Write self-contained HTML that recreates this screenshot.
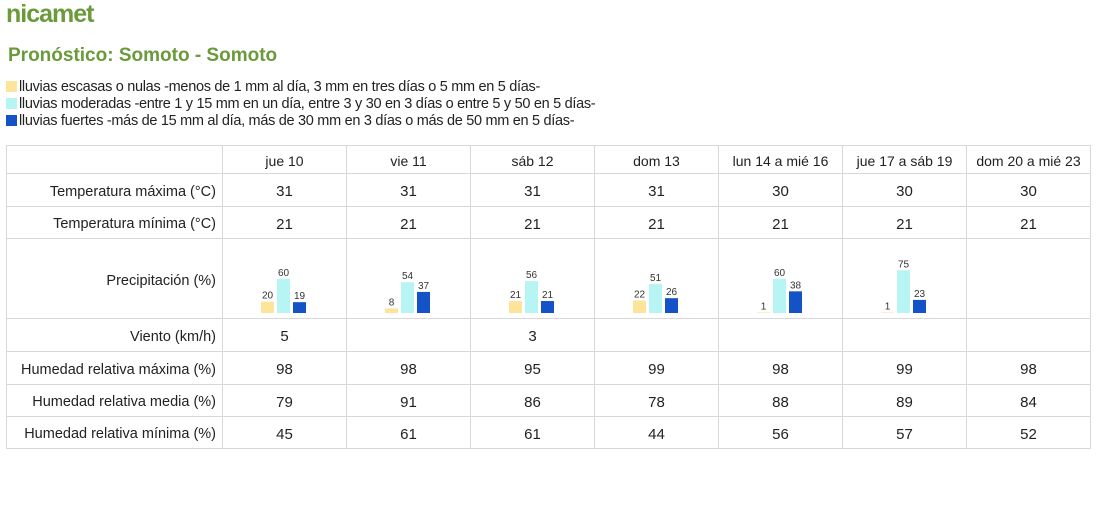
<!DOCTYPE html>
<html><head><meta charset="utf-8"><style>
body{margin:0;width:1112px;height:512px;background:#fff;font-family:"Liberation Sans",sans-serif;color:#222;position:relative;overflow:hidden}
.logo{position:absolute;left:6px;top:0px;font-size:25px;font-weight:bold;color:#6a9a3a;letter-spacing:-1px}
.title{position:absolute;left:8px;top:45px;font-size:19px;font-weight:bold;color:#6a9a3a}
.leg{position:absolute;left:6px;font-size:14.5px;color:#222;white-space:nowrap;letter-spacing:-0.3px}
.sw{display:inline-block;width:11px;height:11px;margin-right:2px;vertical-align:-1px}
table{position:absolute;left:6px;top:145px;border-collapse:collapse;table-layout:fixed}
td{border:1px solid #d8d8d8;text-align:center;font-size:15px;padding:3px 0 0 0;white-space:nowrap}
td.l{font-size:14.5px;text-align:right;padding-right:6px}
tr.h td{font-size:14px}
#precRow td{padding:0}
#precRow td.l{padding-right:6px;padding-top:4px}
svg{display:block}
</style></head><body>
<div class="logo">nicamet</div>
<div class="title">Pronóstico: Somoto - Somoto</div>
<div class="leg" style="top:79px"><span class="sw" style="background:#fde49a"></span>lluvias escasas o nulas -menos de 1 mm al día, 3 mm en tres días o 5 mm en 5 días-</div>
<div class="leg" style="top:96px"><span class="sw" style="background:#b7f5f5"></span>lluvias moderadas -entre 1 y 15 mm en un día, entre 3 y 30 en 3 días o entre 5 y 50 en 5 días-</div>
<div class="leg" style="top:113px"><span class="sw" style="background:#1452c8"></span>lluvias fuertes -más de 15 mm al día, más de 30 mm en 3 días o más de 50 mm en 5 días-</div>
<table>
<colgroup><col style="width:216px"><col style="width:123px"><col style="width:123px"><col style="width:123px"><col style="width:123px"><col style="width:123px"><col style="width:123px"><col style="width:123px"></colgroup>
<tr class="h" style="height:28px"><td></td><td>jue 10</td><td>vie 11</td><td>sáb 12</td><td>dom 13</td><td>lun 14 a mié 16</td><td>jue 17 a sáb 19</td><td>dom 20 a mié 23</td></tr>
<tr style="height:33px"><td class="l">Temperatura máxima (°C)</td><td>31</td><td>31</td><td>31</td><td>31</td><td>30</td><td>30</td><td>30</td></tr>
<tr style="height:32px"><td class="l">Temperatura mínima (°C)</td><td>21</td><td>21</td><td>21</td><td>21</td><td>21</td><td>21</td><td>21</td></tr>
<tr style="height:80px" id="precRow"><td class="l">Precipitación (%)</td></tr>
<tr style="height:33px"><td class="l">Viento (km/h)</td><td>5</td><td></td><td>3</td><td></td><td></td><td></td><td></td></tr>
<tr style="height:33px"><td class="l">Humedad relativa máxima (%)</td><td>98</td><td>98</td><td>95</td><td>99</td><td>98</td><td>99</td><td>98</td></tr>
<tr style="height:32px"><td class="l">Humedad relativa media (%)</td><td>79</td><td>91</td><td>86</td><td>78</td><td>88</td><td>89</td><td>84</td></tr>
<tr style="height:32px"><td class="l">Humedad relativa mínima (%)</td><td>45</td><td>61</td><td>61</td><td>44</td><td>56</td><td>57</td><td>52</td></tr>
</table>
<script>
const periods=["jue 10","vie 11","sáb 12","dom 13","lun 14 a mié 16","jue 17 a sáb 19","dom 20 a mié 23"];
const escasas=[20,8,21,22,1,1,null];
const moderadas=[60,54,56,51,60,75,null];
const fuertes=[19,37,21,26,38,23,null];
const colors=["#fde49a","#b7f5f5","#1452c8"];
const row=document.getElementById('precRow');
const NS="http://www.w3.org/2000/svg";
function y(v){return 74-v*0.57;}
for(let i=0;i<periods.length;i++){
  const td=document.createElement('td');
  
  
  const svg=document.createElementNS(NS,'svg');
  svg.setAttribute('width','123');svg.setAttribute('height','79');
  const series=[escasas[i],moderadas[i],fuertes[i]];
  series.forEach((v,k)=>{
    if(v==null)return;
    const x=38+k*16;
    const r=document.createElementNS(NS,'rect');
    
    
    r.setAttribute('x',x);r.setAttribute('y',y(v));r.setAttribute('width',13);r.setAttribute('height',74-y(v));
    r.setAttribute('fill',colors[k]);svg.appendChild(r);
    const t=document.createElementNS(NS,'text');
    
    
    t.setAttribute('x',x+6.5);t.setAttribute('y',y(v)-3);t.setAttribute('text-anchor','middle');
    t.setAttribute('font-size','10');t.setAttribute('fill','#333');t.setAttribute('font-family','Liberation Sans, sans-serif');
    t.textContent=v;svg.appendChild(t);
  });
  td.appendChild(svg);row.appendChild(td);
}
</script>
</body></html>
